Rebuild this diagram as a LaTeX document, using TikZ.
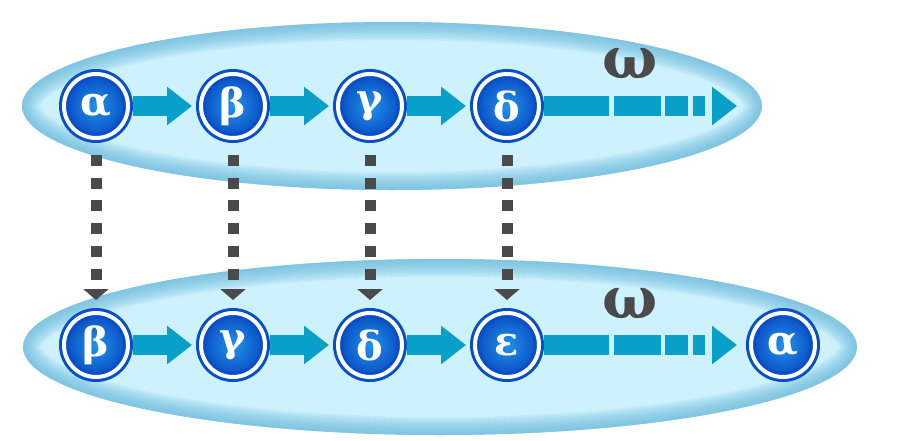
\documentclass[tikz,border=0pt]{standalone}
\usepackage{fontspec}
\setmainfont{DejaVu Serif}
\usetikzlibrary{arrows.meta}
\definecolor{ellin}{RGB}{205,241,253}
\definecolor{ellrim}{RGB}{105,185,220}
\definecolor{ringblue}{RGB}{8,78,200}
\definecolor{discin}{RGB}{34,146,234}
\definecolor{discout}{RGB}{8,76,194}
\definecolor{flowcol}{RGB}{8,160,200}
\definecolor{dotgray}{RGB}{74,74,74}
\begin{document}
\begin{tikzpicture}[x=1pt, y=-1pt,
		bub/.style={circle, minimum size=64pt, inner sep=0pt, outer sep=5pt, shading=radial, inner color=discin, outer color=discout, draw=ringblue, line width=3pt, double=white, double distance=4pt, text=white, font=\bfseries\fontsize{40}{40}\selectfont},
		flow/.style={flowcol, line width=20pt, -{Triangle[length=25pt, width=37pt]}, shorten >=4pt},
		omegadash/.style={dash pattern=on 65pt off 5pt on 47pt off 4pt on 23pt off 5pt on 12pt off 8pt},
		dotarrow/.style={dotgray, line width=11pt, dash pattern=on 11pt off 11.7pt, -{Triangle[length=11pt, width=25pt]}, shorten <=12pt, shorten >=8pt},
		omega/.style={text=dotgray, font=\bfseries\fontsize{58}{58}\selectfont}
		]
		\useasboundingbox (0,0) rectangle (900,440);
		
		% Ellipses
		\begin{scope}
			\clip (392,106) ellipse [x radius=370pt, y radius=84pt];
			\fill[ellin] (392,106) ellipse [x radius=370pt, y radius=84pt];
			\foreach \w in {3,6,...,36}
				\draw[ellrim, opacity=0.1, line width=\w*1pt] (392,106) ellipse [x radius=370pt, y radius=84pt];
		\end{scope}
		\begin{scope}
			\clip (440,347) ellipse [x radius=417pt, y radius=88pt];
			\fill[ellin] (440,347) ellipse [x radius=417pt, y radius=88pt];
			\foreach \w in {3,6,...,36}
				\draw[ellrim, opacity=0.1, line width=\w*1pt] (440,347) ellipse [x radius=417pt, y radius=88pt];
		\end{scope}
		
		% Top row
		\node[bub] (ta) at (96,106) {α};
		\node[bub] (tb) at (233,106) {β};
		\node[bub] (tg) at (370,106) {γ};
		\node[bub] (td) at (507,106) {δ};
		\coordinate (tend) at (737,106);
		\node[omega] (tomega) at (630,64) {ω};
		
		% Bottom row
		\node[bub] (bb) at (96,345) {β};
		\node[bub] (bg) at (233,345) {γ};
		\node[bub] (bd) at (370,345) {δ};
		\node[bub] (be) at (507,345) {ε};
		\node[bub] (ba) at (783,345) {α};
		\node[omega] (bomega) at (630,304) {ω};
		
		% Arrows
		\draw[flow] (ta) -- (tb);
		\draw[flow] (tb) -- (tg);
		\draw[flow] (tg) -- (td);
		\draw[flow, omegadash, shorten >=0pt] (td) -- (tend);
		\draw[flow] (bb) -- (bg);
		\draw[flow] (bg) -- (bd);
		\draw[flow] (bd) -- (be);
		\draw[flow, omegadash, shorten >=9pt] (be) -- (ba);
		
		% Shift
		\draw[dotarrow] (ta) -- (bb);
		\draw[dotarrow] (tb) -- (bg);
		\draw[dotarrow] (tg) -- (bd);
		\draw[dotarrow] (td) -- (be);
		
	\end{tikzpicture}
\end{document}
